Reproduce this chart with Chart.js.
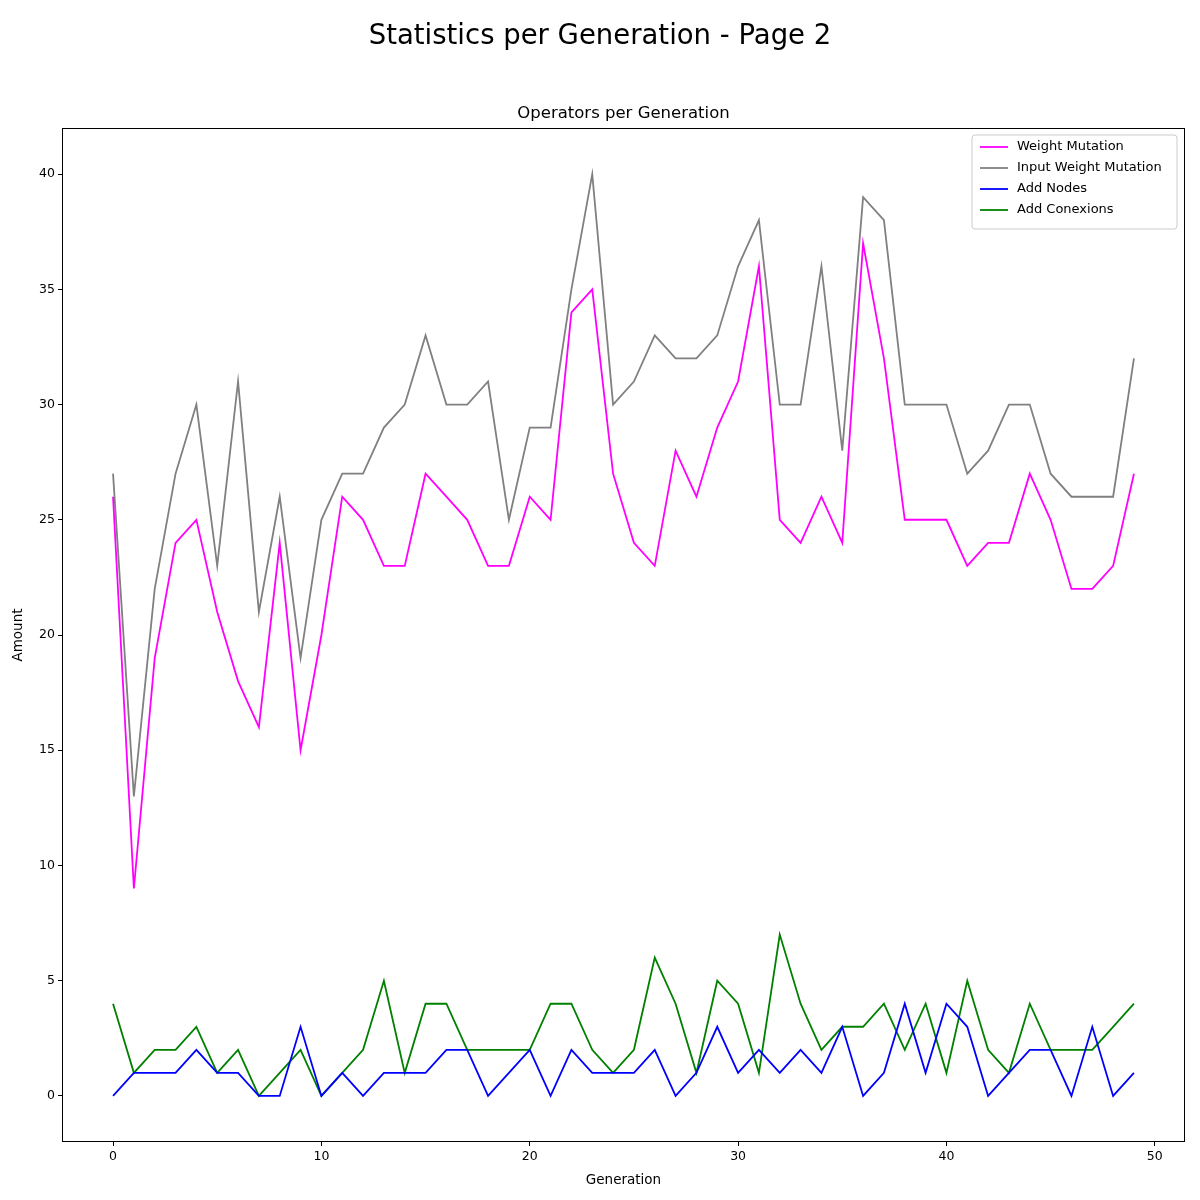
<!DOCTYPE html>
<html>
<head>
<meta charset="utf-8">
<script src="https://cdn.jsdelivr.net/npm/chart.js@4/dist/chart.umd.min.js"></script>
<style>body{margin:0;background:#fff}</style>
</head>
<body>
<canvas id="c" width="1200" height="1200"></canvas>
<script>
// Data
const generations = Array.from({ length: 50 }, (_, i) => i);
const weightMutation = [26,9,19,24,25,21,18,16,24,15,20,26,25,23,23,27,26,25,23,23,26,25,34,35,27,24,23,28,26,29,31,36,25,24,26,24,37,32,25,25,25,23,24,24,27,25,22,22,23,27];
const inputWeightMutation = [27,13,22,27,30,23,31,21,26,19,25,27,27,29,30,33,30,30,31,25,29,29,35,40,30,31,33,32,32,33,36,38,30,30,36,28,39,38,30,30,30,27,28,30,30,27,26,26,26,32];
const addNodes = [0,1,1,1,2,1,1,0,0,3,0,1,0,1,1,1,2,2,0,1,2,0,2,1,1,1,2,0,1,3,1,2,1,2,1,3,0,1,4,1,4,3,0,1,2,2,0,3,0,1];
const addConexions = [4,1,2,2,3,1,2,0,1,2,0,1,2,5,1,4,4,2,2,2,2,4,4,2,1,2,6,4,1,5,4,1,7,4,2,3,3,4,2,4,1,5,2,1,4,2,2,2,3,4];
const xTicks = [0, 10, 20, 30, 40, 50];
const yTicks = [0, 5, 10, 15, 20, 25, 30, 35, 40];

const FONT = 'DejaVu Sans';

const series = (label, values, color) => ({
    label,
    data: values.map((v, i) => ({ x: generations[i], y: v })),
    borderColor: color,
    backgroundColor: color,
    borderWidth: 1.8,
    pointRadius: 0,
    tension: 0
});

// Titles, frame and in-plot legend
const decor = {
    id: 'decor',
    afterDraw(chart) {
        const { ctx, chartArea: a } = chart;
        ctx.save();
        ctx.fillStyle = '#000';
        ctx.textAlign = 'center';
        ctx.textBaseline = 'middle';
        ctx.font = `27.5px ${FONT}`;
        ctx.fillText('Statistics per Generation - Page 2', 600, 37);
        ctx.font = `16.5px ${FONT}`;
        ctx.fillText('Operators per Generation', (a.left + a.right) / 2, 114);

        ctx.strokeStyle = '#000';
        ctx.lineWidth = 1;
        ctx.strokeRect(a.left + 0.5, a.top + 0.5, a.right - a.left - 1, a.bottom - a.top - 1);

        // legend
        const items = chart.data.datasets;
        const w = 205, rowH = 21, h = items.length * rowH + 10;
        const x0 = a.right - w - 8, y0 = a.top + 7;
        ctx.fillStyle = 'rgba(255,255,255,0.8)';
        ctx.strokeStyle = '#ccc';
        ctx.beginPath();
        ctx.roundRect(x0, y0, w, h, 3);
        ctx.fill();
        ctx.stroke();
        ctx.font = `13px ${FONT}`;
        ctx.textAlign = 'left';
        items.forEach((d, i) => {
            const yy = y0 + 12 + i * rowH;
            ctx.strokeStyle = d.borderColor;
            ctx.lineWidth = 1.8;
            ctx.beginPath();
            ctx.moveTo(x0 + 8, yy);
            ctx.lineTo(x0 + 36, yy);
            ctx.stroke();
            ctx.fillStyle = '#000';
            ctx.fillText(d.label, x0 + 45, yy);
        });
        ctx.restore();
    }
};

new Chart(document.getElementById('c'), {
    type: 'line',
    data: {
        datasets: [
            series('Weight Mutation', weightMutation, '#ff00ff'),
            series('Input Weight Mutation', inputWeightMutation, '#808080'),
            series('Add Nodes', addNodes, '#0000ff'),
            series('Add Conexions', addConexions, '#008000')
        ]
    },
    options: {
        responsive: false,
        animation: false,
        devicePixelRatio: 1,
        layout: { padding: { top: 128, right: 15, left: 0, bottom: 0 } },
        plugins: { legend: { display: false }, tooltip: { enabled: false } },
        scales: {
            x: {
                type: 'linear',
                min: -2.45,
                max: 51.45,
                afterBuildTicks: s => { s.ticks = xTicks.map(v => ({ value: v })); },
                afterFit: s => { s.height = 58; },
                grid: { drawOnChartArea: false, tickLength: 4, color: '#000' },
                border: { display: false },
                ticks: { color: '#000', font: { family: FONT, size: 12.5 }, maxRotation: 0, padding: 3 },
                title: { display: true, text: 'Generation', color: '#000', font: { family: FONT, size: 13.5 }, padding: { top: 0, bottom: 11 } }
            },
            y: {
                min: -2,
                max: 42,
                afterBuildTicks: s => { s.ticks = yTicks.map(v => ({ value: v })); },
                afterFit: s => { s.width = 62; },
                grid: { drawOnChartArea: false, tickLength: 4, color: '#000' },
                border: { display: false },
                ticks: { color: '#000', font: { family: FONT, size: 12.5 }, padding: 3 },
                title: { display: true, text: 'Amount', color: '#000', font: { family: FONT, size: 13.5 }, padding: { top: 10, bottom: 4 } }
            }
        }
    },
    plugins: [decor]
});
</script>
</body>
</html>
